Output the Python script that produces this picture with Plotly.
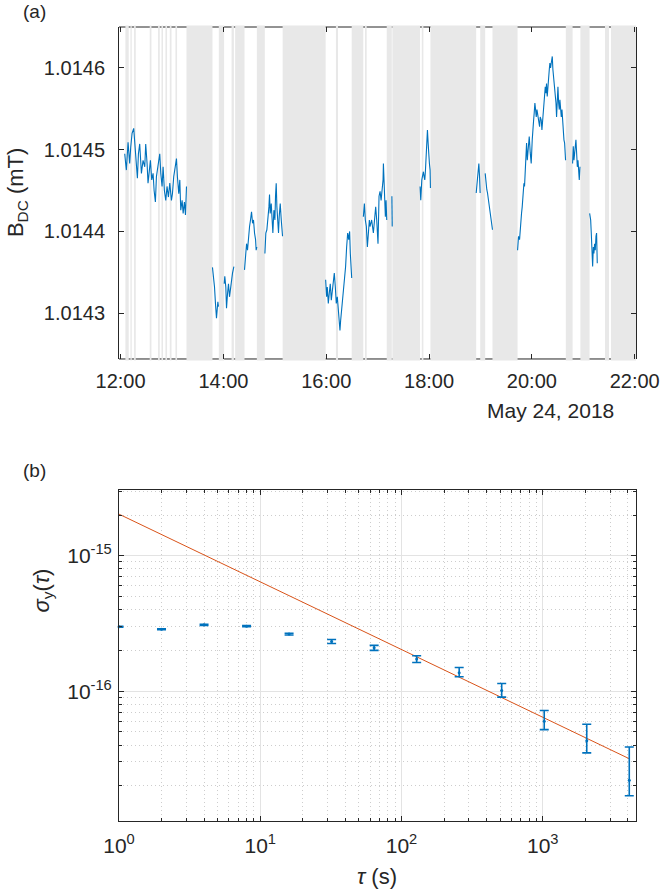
import pandas as pd
import plotly.graph_objects as go

# ---------------- Panel (a): B_DC time series (minutes after 12:00, mT) ----------------
t1 = [4.8, 6.7, 8.7, 10.6, 11.8, 13.4, 15.3, 16.5, 18.4, 19.6, 20.8, 22.3, 24.3, 26.2, 28.2, 29.3, 30.9, 32.0, 33.2, 34.8,
      36.3, 37.9, 39.1, 40.6, 41.8, 43.7, 45.7, 46.9, 48.4, 49.6, 51.1, 52.7, 54.2, 55.8, 57.4, 59.3, 60.5, 62.0, 63.6, 65.2,
      66.3, 67.9, 69.1, 70.2, 71.8, 73.0, 74.5, 75.7, 76.9]
b1 = [1.014495, 1.014475, 1.014509, 1.014483, 1.014503, 1.014520, 1.014526, 1.014507, 1.014479, 1.014465,
      1.014495, 1.014507, 1.014471, 1.014487, 1.014479, 1.014507, 1.014483, 1.014459, 1.014471, 1.014487,
      1.014463, 1.014471, 1.014450, 1.014436, 1.014467, 1.014483, 1.014495, 1.014471, 1.014455, 1.014479,
      1.014450, 1.014438, 1.014455, 1.014442, 1.014459, 1.014438, 1.014446, 1.014467, 1.014479, 1.014489,
      1.014467, 1.014446, 1.014463, 1.014426, 1.014438, 1.014422, 1.014436, 1.014420, 1.014455]
t2 = [107.2, 108.4, 109.6, 110.7, 111.9, 112.7, 113.5, 114.2]
b2 = [1.014356, 1.014345, 1.014332, 1.014312, 1.014294, 1.014304, 1.014314, 1.014308]
t3 = [120.9, 121.6, 122.8, 123.6, 124.8, 125.9, 127.1, 128.3, 129.4, 130.6, 131.4, 132.2]
b3 = [1.014336, 1.014345, 1.014332, 1.014306, 1.014324, 1.014336, 1.014320, 1.014332, 1.014341, 1.014349, 1.014353, 1.014357]
t4 = [144.6, 145.8, 147.0, 148.1, 149.3, 150.5, 151.6, 152.8, 154.0, 155.1, 156.3, 157.5, 158.2, 159.0]
b4 = [1.014353, 1.014377, 1.014385, 1.014377, 1.014398, 1.014406, 1.014414, 1.014424, 1.014410, 1.014414,
      1.014398, 1.014390, 1.014377, 1.014381]
t5 = [168.4, 169.5, 170.7, 171.9, 173.1, 173.8, 174.6, 175.8, 176.9, 177.7, 178.9, 180.1, 180.8, 181.6, 182.4, 183.2,
      184.3, 185.1, 186.3, 187.5, 188.2, 189.0]
b5 = [1.014373, 1.014398, 1.014402, 1.014414, 1.014430, 1.014445, 1.014422, 1.014434, 1.014414, 1.014398, 1.014426,
      1.014414, 1.014443, 1.014459, 1.014430, 1.014414, 1.014398, 1.014418, 1.014434, 1.014414, 1.014406, 1.014394]
t6 = [239.3, 240.4, 241.2, 242.4, 243.5, 244.7, 245.9, 247.1, 248.2, 249.4, 250.6, 251.7, 252.9, 254.1, 255.2, 256.0,
      256.8, 258.0, 259.1, 260.3, 261.5, 262.6, 263.8, 265.0, 266.2, 267.3, 268.1, 268.9, 269.7]
b6 = [1.014341, 1.014320, 1.014332, 1.014312, 1.014324, 1.014336, 1.014316, 1.014328, 1.014336, 1.014349, 1.014332,
      1.014312, 1.014320, 1.014304, 1.014300, 1.014279, 1.014291, 1.014304, 1.014316, 1.014324, 1.014345, 1.014357,
      1.014381, 1.014398, 1.014390, 1.014400, 1.014373, 1.014357, 1.014343]
t7 = [283.3, 284.5, 285.6, 286.8, 288.0, 289.1, 290.3, 291.1, 293.0, 295.0, 296.6, 297.7, 298.9, 300.4, 301.6, 302.8,
      304.0, 305.1, 306.3, 306.7, 307.8, 309.0, 309.8, 310.6]
b7 = [1.014418, 1.014434, 1.014414, 1.014406, 1.014381, 1.014406, 1.014414, 1.014406, 1.014414, 1.014398, 1.014418,
      1.014430, 1.014414, 1.014385, 1.014443, 1.014449, 1.014438, 1.014447, 1.014463, 1.014483, 1.014434, 1.014418,
      1.014438, 1.014414]
t8 = [316.6, 317.0]
b8 = [1.014443, 1.014406]
t9 = [349.5, 350.3, 351.5, 352.6, 353.4, 354.2, 355.0, 355.8, 356.5, 357.3, 358.1, 358.9, 359.7, 360.4, 361.2, 361.6]
b9 = [1.014455, 1.014438, 1.014463, 1.014467, 1.014473, 1.014467, 1.014463, 1.014475, 1.014495, 1.014504, 1.014524,
      1.014508, 1.014487, 1.014483, 1.014475, 1.014453]
t10 = [415.0, 415.7, 416.5, 417.3, 418.1, 418.9, 419.6]
b10 = [1.014447, 1.014455, 1.014463, 1.014479, 1.014483, 1.014467, 1.014447]
t11 = [425.5, 426.6, 427.4, 428.2, 429.4, 430.5, 431.7, 432.9, 434.0]
b11 = [1.014471, 1.014455, 1.014451, 1.014447, 1.014438, 1.014430, 1.014418, 1.014414, 1.014402]
t12 = [463.3, 464.4, 465.6, 466.8, 467.9, 468.7, 469.9, 470.7, 471.4, 472.2,
       473.0, 473.8, 474.6, 475.7, 476.9, 478.1, 479.2, 480.4, 481.2, 482.0,
       482.7, 483.5, 484.3, 485.1, 485.9, 487.0, 488.2, 489.0, 489.7, 490.9,
       491.7, 492.5, 493.3, 494.0, 494.8, 495.6, 496.4, 497.1, 497.9, 498.7,
       499.5, 500.3, 501.0, 501.8, 502.6, 503.8, 504.5, 505.3, 506.1, 507.3,
       508.1, 508.8, 509.6, 510.4, 511.2, 512.0, 512.7, 513.5, 514.3, 515.1,
       515.8, 516.6, 517.4, 518.2, 518.9, 519.3]
b12 = [1.014377, 1.014394, 1.014390, 1.014414, 1.014422, 1.014430, 1.014447, 1.014459, 1.014455, 1.014475,
       1.014496, 1.014508, 1.014487, 1.014504, 1.014516, 1.014496, 1.014483, 1.014512, 1.014520, 1.014536,
       1.014545, 1.014557, 1.014549, 1.014540, 1.014549, 1.014540, 1.014536, 1.014528, 1.014540, 1.014536,
       1.014524, 1.014536, 1.014549, 1.014561, 1.014577, 1.014577, 1.014569, 1.014581, 1.014565, 1.014581,
       1.014598, 1.014598, 1.014606, 1.014600, 1.014606, 1.014614, 1.014598, 1.014589, 1.014585, 1.014573,
       1.014557, 1.014540, 1.014565, 1.014577, 1.014557, 1.014549, 1.014561, 1.014553, 1.014540, 1.014549,
       1.014536, 1.014520, 1.014512, 1.014508, 1.014496, 1.014487]
t13 = [527.5, 528.3, 529.1, 529.9, 530.6, 531.4, 532.2, 533.0, 533.8, 534.5, 535.3, 536.1]
b13 = [1.014483, 1.014504, 1.014487, 1.014496, 1.014508, 1.014512, 1.014496, 1.014479, 1.014487, 1.014471,
       1.014463, 1.014479]
t14 = [547.4, 548.6, 549.3, 550.1, 550.9, 551.7, 552.4, 553.2, 554.0, 554.8, 555.5, 556.3]
b14 = [1.014422, 1.014414, 1.014398, 1.014377, 1.014357, 1.014381, 1.014373, 1.014385, 1.014377, 1.014394,
       1.014398, 1.014361]

# excluded intervals (gray bands), minutes after 12:00
band_start = [5.6, 11.5, 15.7, 34.0, 43.7, 47.7, 52.3, 57.4, 64.0, 76.9, 114.6, 129.5, 133.7, 159.0, 189.1,
              251.3, 269.7, 285.2, 310.6, 317.2, 351.5, 361.6, 419.7, 434.0, 519.6, 536.6, 565.3, 572.3]
band_end = [9.5, 13.0, 17.7, 36.0, 45.7, 49.5, 54.2, 59.4, 65.9, 107.2, 120.8, 132.2, 144.6, 168.3, 239.3,
            253.7, 283.2, 287.2, 316.5, 349.5, 353.4, 415.0, 425.5, 463.3, 527.5, 547.3, 570.0, 605.0]

day0 = pd.Timestamp("2018-05-24 12:00:00")
x_range_min = [-1.87, 601.5]
y_range_a = [1.014244, 1.01465]
y_ticks_a = [1.0143, 1.0144, 1.0145, 1.0146]
x_ticks_hours = [12, 14, 16, 18, 20, 22]

# ---------------- Panel (b): Allan deviation ----------------
tau = [1, 2, 4, 8, 16, 32, 64, 128, 256, 512, 1024, 2048, 4096]
sigma = [2.99e-16, 2.87e-16, 3.09e-16, 3.02e-16, 2.64e-16, 2.33e-16, 2.09e-16, 1.73e-16, 1.37e-16, 1.01e-16,
         6.0e-17, 4.3e-17, 2.2e-17]
err_plus = [0.02e-16, 0.02e-16, 0.03e-16, 0.03e-16, 0.04e-16, 0.08e-16, 0.09e-16, 0.095e-16, 0.126e-16, 0.13e-16,
            1.2e-17, 1.4e-17, 1.67e-17]
err_minus = [0.02e-16, 0.02e-16, 0.03e-16, 0.03e-16, 0.04e-16, 0.08e-16, 0.09e-16, 0.10e-16, 0.093e-16, 0.107e-16,
             0.8e-17, 0.8e-17, 0.51e-17]
fit_tau = [1, 4096]
fit_sigma = [2.03e-15, 3.17e-17]
x_range_b = [0, 3.66]
y_range_b = [-16.959, -14.514]

BLUE = "#0072BD"
RED = "#D95319"
AX = "#262626"
FONT = "Liberation Sans, Arial, Helvetica, sans-serif"

def to_time(mins):
    return [day0 + pd.Timedelta(minutes=m) for m in mins]

segments = [(t1, b1), (t2, b2), (t3, b3), (t4, b4), (t5, b5), (t6, b6), (t7, b7), (t8, b8), (t9, b9),
            (t10, b10), (t11, b11), (t12, b12), (t13, b13), (t14, b14)]
xs, ys = [], []
for tt, bb in segments:
    xs += to_time(tt) + [None]
    ys += bb + [None]

fig = go.Figure()
fig.add_trace(go.Scatter(x=xs, y=ys, mode="lines", line=dict(color=BLUE, width=1.1),
                         connectgaps=False, xaxis="x", yaxis="y", showlegend=False, hoverinfo="skip"))

fig.add_trace(go.Scatter(x=fit_tau, y=fit_sigma, mode="lines", line=dict(color=RED, width=1),
                         xaxis="x2", yaxis="y2", showlegend=False))
fig.add_trace(go.Scatter(x=tau, y=sigma, mode="markers", marker=dict(color=BLUE, size=3),
                         error_y=dict(type="data", symmetric=False, array=err_plus, arrayminus=err_minus,
                                      color=BLUE, thickness=1.6, width=4.5),
                         cliponaxis=False, xaxis="x2", yaxis="y2", showlegend=False))

dom_a = [0.5819, 1.0]
dom_b = [0.0, 0.4169]

shapes = []
# top and bottom box edges of panel (a) (partly hidden by the bands, as in the original)
for yy in dom_a:
    shapes.append(dict(type="line", xref="paper", yref="paper", x0=0, x1=1, y0=yy, y1=yy,
                       line=dict(color=AX, width=1), layer="below"))
for s, e in zip(band_start, band_end):
    shapes.append(dict(type="rect", xref="x", yref="paper",
                       x0=day0 + pd.Timedelta(minutes=s), x1=day0 + pd.Timedelta(minutes=e),
                       y0=dom_a[0] - 0.002, y1=dom_a[1] + 0.002,
                       fillcolor="#E8E8E8", line=dict(width=0), layer="below"))

minor_x = [m * 10 ** k for k in range(0, 4) for m in range(2, 10)]
minor_y = [m * 10.0 ** k for k in range(-17, -14) for m in range(2, 10)]

ytick_a = dict(family=FONT, size=20, color=AX)
xtick_a = dict(family=FONT, size=20, color=AX)
tick_b = dict(family=FONT, size=21, color=AX)
MINOR_GRID = "#CDCDCD"
MAJOR_GRID = "#E3E3E3"

fig.update_layout(
    width=661, height=896,
    margin=dict(l=119, r=25, t=27, b=75, autoexpand=False),
    paper_bgcolor="white", plot_bgcolor="white",
    font=dict(family=FONT, color=AX),
    shapes=shapes,
    xaxis=dict(domain=[0, 1], anchor="y", type="date", automargin=False,
               range=[day0 + pd.Timedelta(minutes=x_range_min[0]), day0 + pd.Timedelta(minutes=x_range_min[1])],
               tickmode="array", tickvals=[day0 + pd.Timedelta(hours=h - 12) for h in x_ticks_hours],
               tickformat="%H:%M", ticks="inside", ticklen=5, tickcolor=AX, tickwidth=1,
               showline=False, mirror="ticks", showgrid=False, zeroline=False,
               tickfont=xtick_a, ticklabelstandoff=8),
    yaxis=dict(domain=dom_a, anchor="x", range=y_range_a, tickmode="array", tickvals=y_ticks_a, automargin=False,
               tickformat=".4f", ticks="inside", ticklen=5, tickcolor=AX, tickwidth=1,
               showline=True, linecolor=AX, linewidth=1, mirror="ticks", showgrid=False, zeroline=False,
               tickfont=ytick_a, ticklabelstandoff=9),
    xaxis2=dict(domain=[0, 1], anchor="y2", type="log", range=x_range_b, automargin=False,
                tickmode="array", tickvals=[1, 10, 100, 1000],
                ticktext=["10<sup>0</sup>", "10<sup>1</sup>", "10<sup>2</sup>", "10<sup>3</sup>"],
                ticks="inside", ticklen=5, tickcolor=AX, tickwidth=1,
                showline=True, linecolor=AX, linewidth=1, mirror="ticks",
                showgrid=True, gridcolor=MAJOR_GRID, gridwidth=1, zeroline=False,
                minor=dict(tickmode="array", tickvals=minor_x, ticks="inside", ticklen=3, tickcolor=AX,
                           showgrid=True, gridcolor=MINOR_GRID, griddash="1px,3px", gridwidth=1),
                tickfont=tick_b, ticklabelstandoff=6),
    yaxis2=dict(domain=dom_b, anchor="x2", type="log", range=y_range_b, automargin=False,
                tickmode="array", tickvals=[1e-16, 1e-15],
                ticktext=["10<sup>-16</sup>", "10<sup>-15</sup>"],
                ticks="inside", ticklen=5, tickcolor=AX, tickwidth=1,
                showline=True, linecolor=AX, linewidth=1, mirror="ticks",
                showgrid=True, gridcolor=MAJOR_GRID, gridwidth=1, zeroline=False,
                minor=dict(tickmode="array", tickvals=minor_y, ticks="inside", ticklen=3, tickcolor=AX,
                           showgrid=True, gridcolor=MINOR_GRID, griddash="1px,3px", gridwidth=1),
                tickfont=tick_b, ticklabelstandoff=2),
    annotations=[
        dict(text="(a)", xref="paper", yref="paper", x=-0.164, y=1.019, showarrow=False,
             font=dict(family=FONT, size=19, color=AX), xanchor="center", yanchor="middle"),
        dict(text="(b)", xref="paper", yref="paper", x=-0.164, y=0.442, showarrow=False,
             font=dict(family=FONT, size=19, color=AX), xanchor="center", yanchor="middle"),
        dict(text="May 24, 2018", xref="paper", yref="paper", x=0.8337, y=0.5164, showarrow=False,
             font=dict(family=FONT, size=21, color=AX), xanchor="center", yanchor="middle"),
        dict(text="B<sub>DC</sub> (mT)", xref="paper", yref="paper", x=-0.197, y=0.791, showarrow=False,
             textangle=-90, font=dict(family=FONT, size=22, color=AX), xanchor="center", yanchor="middle"),
        dict(text="<i>σ</i><sub>y</sub>(<i>τ</i>)", xref="paper", yref="paper", x=-0.148, y=0.291,
             showarrow=False, textangle=-90, font=dict(family=FONT, size=22, color=AX),
             xanchor="center", yanchor="middle"),
        dict(text="<i>τ</i> (s)", xref="paper", yref="paper", x=0.499, y=-0.0705, showarrow=False,
             font=dict(family=FONT, size=22, color=AX), xanchor="center", yanchor="middle"),
    ],
)

fig.write_html("out.html", config={"displayModeBar": False},
               post_script="document.body.style.margin='0px';")
